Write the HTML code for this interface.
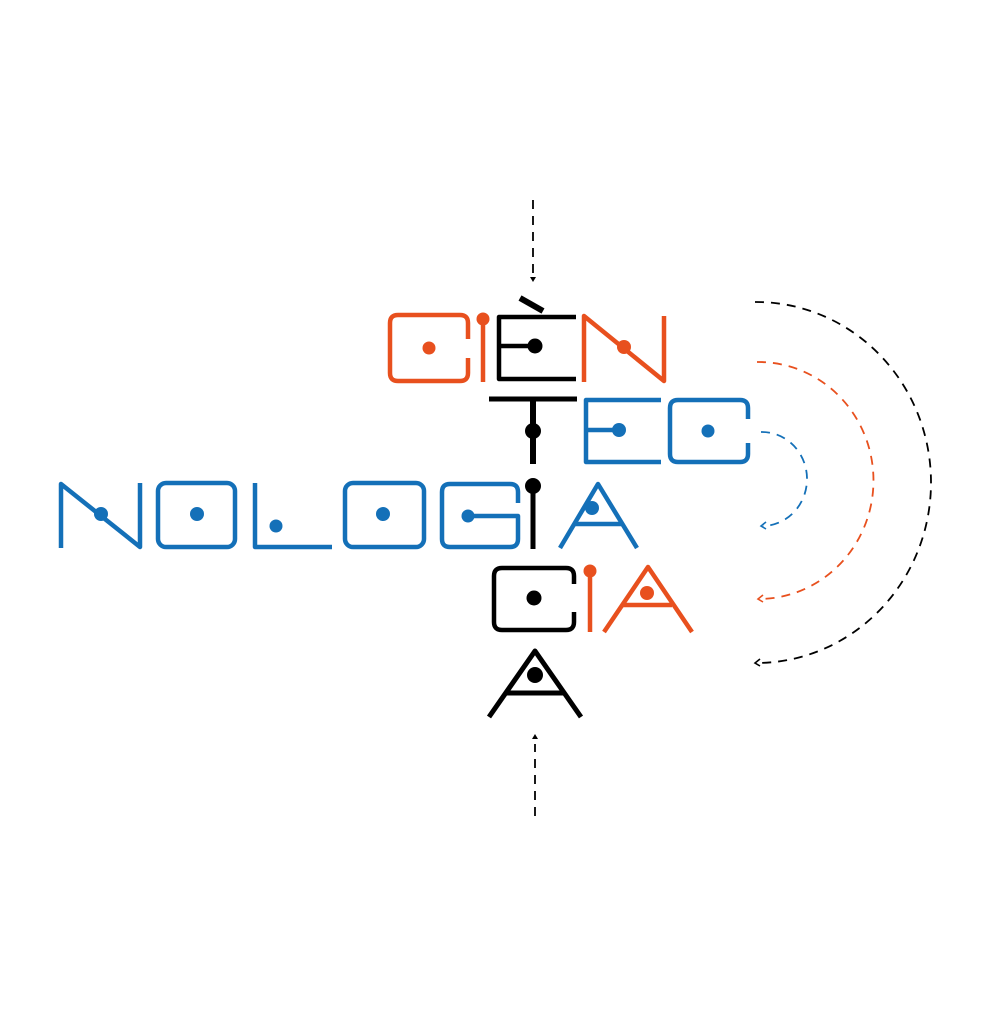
<!DOCTYPE html>
<html><head><meta charset="utf-8"><style>
html,body{margin:0;padding:0;background:#fff;width:1007px;height:1024px;overflow:hidden}
svg{display:block}
</style></head><body>
<svg width="1007" height="1024" viewBox="0 0 1007 1024" xmlns="http://www.w3.org/2000/svg">
<title>CIÈNTECNOLOGIA CIA</title>
<text x="-100" y="-100" font-family="Liberation Sans, sans-serif" font-size="10">CIÈN TEC NOLOGIA CIA A</text>
<g fill="none" stroke-width="4.5" stroke-linecap="butt" stroke-linejoin="round">
<!-- Row 1: CIÈN -->
<g stroke="#e8501e">
 <path d="M468,339 V323 Q468,315 460,315 H398 Q390,315 390,323 V373 Q390,381 398,381 H460 Q468,381 468,373 V358"/>
 <line x1="483" y1="320" x2="483" y2="382"/>
 <path d="M584,382 V316 L664,381 V316"/>
</g>
<g fill="#e8501e"><circle cx="429" cy="348" r="6.5"/><circle cx="483" cy="319" r="6.5"/><circle cx="624" cy="347" r="7"/></g>
<g stroke="#000">
 <path d="M576,317 H499 V379 H576"/>
 <line x1="499" y1="346" x2="535" y2="346"/>
 <line x1="520" y1="298" x2="543" y2="311" stroke-width="6"/>
</g>
<circle cx="535" cy="346" r="7.5" fill="#000"/>
<!-- Row 2: TEC -->
<g stroke="#000" stroke-width="5">
 <line x1="489" y1="399" x2="577" y2="399"/>
 <line x1="533" y1="399" x2="533" y2="464" stroke-width="6"/>
</g>
<circle cx="533" cy="431" r="8" fill="#000"/>
<g stroke="#1470b8">
 <path d="M661,400 H586 V462 H661"/>
 <line x1="586" y1="430" x2="619" y2="430"/>
 <path d="M748,419 V408 Q748,400 740,400 H678 Q670,400 670,408 V454 Q670,462 678,462 H740 Q748,462 748,454 V443"/>
</g>
<g fill="#1470b8"><circle cx="619" cy="430" r="7"/><circle cx="708" cy="431" r="6.5"/></g>
<!-- Row 3: NOLOGIA -->
<g stroke="#1470b8">
 <path d="M61,548 V484 L140,547 V483"/>
 <rect x="158" y="483" width="77" height="64" rx="8"/>
 <path d="M255,483 V547 H332"/>
 <rect x="345" y="483" width="79" height="64" rx="8"/>
 <path d="M518,503 V492 Q518,484 510,484 H450 Q442,484 442,492 V539 Q442,547 450,547 H510 Q518,547 518,539 V516 H468"/>
 <path d="M560,548 L598,484 L637,548"/>
 <line x1="574" y1="524" x2="622" y2="524"/>
</g>
<g fill="#1470b8"><circle cx="101" cy="514" r="7"/><circle cx="197" cy="514" r="7"/><circle cx="276" cy="526" r="6.5"/><circle cx="383" cy="514" r="7"/><circle cx="468" cy="516" r="6.5"/><circle cx="592" cy="508" r="7"/></g>
<line x1="533" y1="488" x2="533" y2="549" stroke="#000" stroke-width="5"/>
<circle cx="533" cy="486" r="8" fill="#000"/>
<!-- Row 4: CIA -->
<g stroke="#000">
 <path d="M574,584 V576 Q574,568 566,568 H502 Q494,568 494,576 V622 Q494,630 502,630 H566 Q574,630 574,622 V612"/>
</g>
<circle cx="534" cy="598" r="7.5" fill="#000"/>
<g stroke="#e8501e">
 <line x1="590" y1="572" x2="590" y2="632"/>
 <path d="M604,632 L648,567 L692,632"/>
 <line x1="622" y1="605" x2="672" y2="605"/>
</g>
<g fill="#e8501e"><circle cx="590" cy="571" r="6.5"/><circle cx="647" cy="593" r="7"/></g>
<!-- Row 5: A -->
<g stroke="#000" stroke-width="5">
 <path d="M489,717 L535,651 L581,717"/>
 <line x1="505" y1="693" x2="565" y2="693"/>
</g>
<circle cx="535" cy="675" r="8" fill="#000"/>
</g>
<!-- dashed arrows -->
<g fill="none" stroke-width="1.8" stroke-dasharray="9,7">
 <line x1="533" y1="200" x2="533" y2="274" stroke="#000"/>
 <line x1="535" y1="816" x2="535" y2="744" stroke="#000"/>
 <path d="M755,302 A175,180.5 0 0 1 757,663" stroke="#000"/>
 <path d="M757,362 A115,118.5 0 0 1 760,599" stroke="#e8501e"/>
 <path d="M761,432 A45,47 0 0 1 763,526" stroke="#1470b8"/>
</g>
<path d="M530,277 L536,277 L533,282 Z" fill="#000"/>
<path d="M532,739 L538,739 L535,734 Z" fill="#000"/>
<g fill="none" stroke-width="1.6">
 <path d="M760,659 L755,663 L760,666" stroke="#000"/>
 <path d="M763,595 L758,599 L763,602" stroke="#e8501e"/>
 <path d="M766,522 L761,526 L766,529" stroke="#1470b8"/>
</g>
</svg>
</body></html>
